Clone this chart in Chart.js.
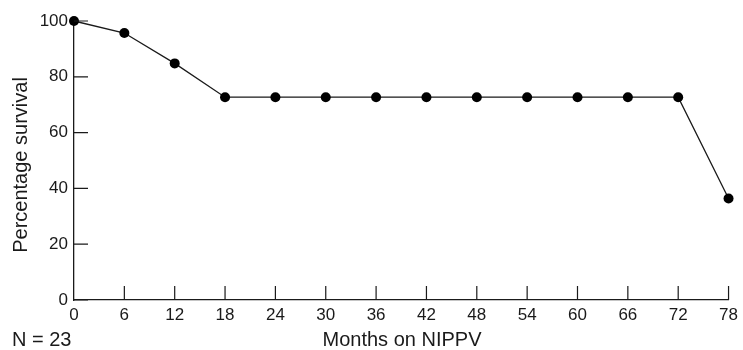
<!DOCTYPE html>
<html>
<head>
<meta charset="utf-8">
<script src="https://cdn.jsdelivr.net/npm/chart.js@4"></script>
<style>
  html, body { margin: 0; padding: 0; background: #fff; }
  #wrap { width: 743px; height: 350px; }
</style>
</head>
<body>
<div id="wrap"><canvas id="survival"></canvas></div>
<script>
// months on NIPPV and Kaplan-Meier style survival (%)
const months = [0, 6, 12, 18, 24, 30, 36, 42, 48, 54, 60, 66, 72, 78];
const survival = [100, 95.7, 84.8, 72.7, 72.7, 72.7, 72.7, 72.7, 72.7, 72.7, 72.7, 72.7, 72.7, 36.4];
const yTicks = [0, 20, 40, 60, 80, 100];
const xTitle = 'Months on NIPPV';
const yTitle = 'Percentage survival';
const nLabel = 'N = 23';

const FONT = 'Liberation Sans, Arial, Helvetica, sans-serif';
const INK = '#1a1a1a';

// ticks in this figure point inward, so draw them ourselves
const innerTicks = {
  id: 'innerTicks',
  afterDatasetsDraw(chart) {
    const {ctx, scales: {x, y}} = chart;
    const len = 14;
    ctx.save();
    ctx.strokeStyle = INK;
    ctx.lineWidth = 1.2;
    ctx.beginPath();
    months.forEach(m => {
      if (m === 0) return;
      const px = x.getPixelForValue(m);
      ctx.moveTo(px, y.bottom);
      ctx.lineTo(px, y.bottom - len);
    });
    yTicks.forEach(v => {
      const py = y.getPixelForValue(v);
      ctx.moveTo(x.left, py);
      ctx.lineTo(x.left + len, py);
    });
    ctx.stroke();
    ctx.restore();
  },
  afterDraw(chart) {
    const {ctx} = chart;
    ctx.save();
    ctx.fillStyle = INK;
    ctx.font = '20px ' + FONT;
    ctx.textBaseline = 'middle';
    ctx.textAlign = 'left';
    ctx.fillText(nLabel, 12, 340);
    ctx.textAlign = 'center';
    ctx.fillText(xTitle, 402, 340);
    // y title, rotated
    ctx.translate(21, 165);
    ctx.rotate(-Math.PI / 2);
    ctx.fillText(yTitle, 0, 0);
    ctx.restore();
  }
};

new Chart(document.getElementById('survival'), {
  type: 'line',
  data: {
    datasets: [{
      data: months.map((m, i) => ({x: m, y: survival[i]})),
      borderColor: INK,
      borderWidth: 1.3,
      backgroundColor: '#000',
      pointRadius: 5,
      pointHoverRadius: 5,
      pointBorderWidth: 0,
      tension: 0,
      clip: false
    }]
  },
  options: {
    responsive: true,
    maintainAspectRatio: false,
    animation: false,
    events: [],
    layout: { padding: { top: 21, right: 11, left: 0, bottom: 0 } },
    plugins: { legend: { display: false }, tooltip: { enabled: false } },
    scales: {
      x: {
        type: 'linear',
        min: 0, max: 78,
        afterBuildTicks: s => { s.ticks = months.map(v => ({value: v})); },
        afterFit: s => { s.height = 50; },
        grid: { display: false, drawTicks: false },
        border: { display: true, color: INK, width: 1.3 },
        ticks: { color: INK, font: { size: 17, family: FONT }, padding: 5, maxRotation: 0, autoSkip: false }
      },
      y: {
        min: 0, max: 100,
        afterBuildTicks: s => { s.ticks = yTicks.map(v => ({value: v})); },
        afterFit: s => { s.width = 74; },
        grid: { display: false, drawTicks: false },
        border: { display: true, color: INK, width: 1.3 },
        ticks: { color: INK, font: { size: 17, family: FONT }, padding: 6 }
      }
    }
  },
  plugins: [innerTicks]
});
</script>
</body>
</html>
